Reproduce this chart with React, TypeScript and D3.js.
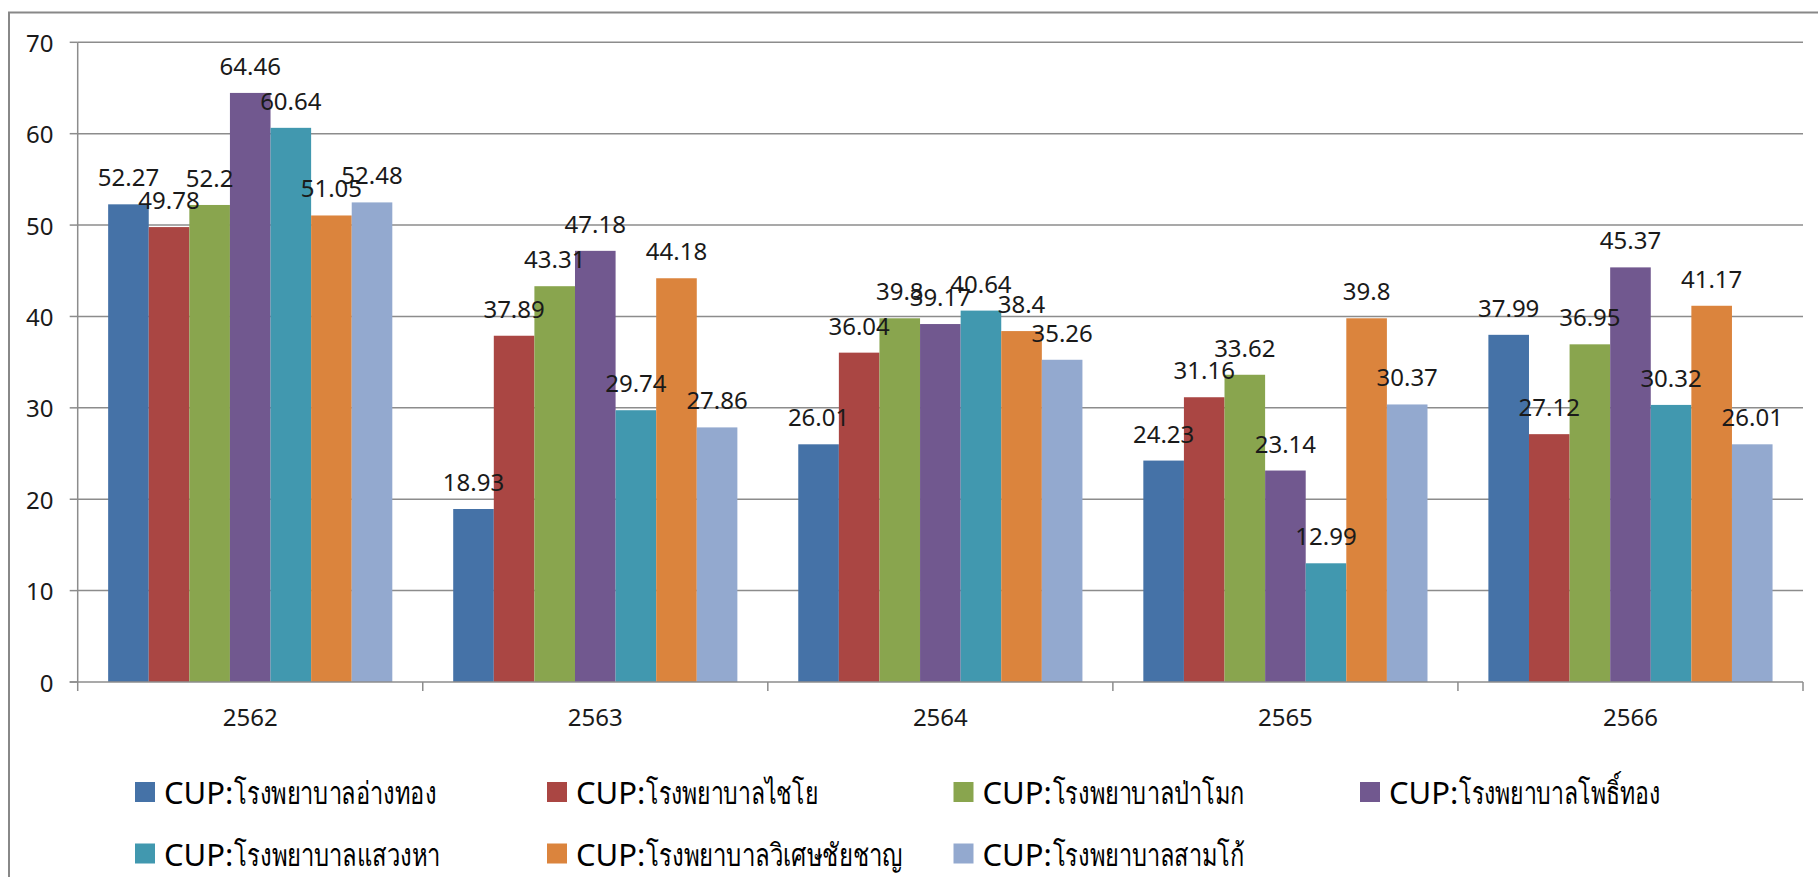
import React from "react";
import * as d3 from "d3";

const categories = ["2562", "2563", "2564", "2565", "2566"];
const seriesNames = [
  "CUP:โรงพยาบาลอ่างทอง",
  "CUP:โรงพยาบาลไชโย",
  "CUP:โรงพยาบาลป่าโมก",
  "CUP:โรงพยาบาลโพธิ์ทอง",
  "CUP:โรงพยาบาลแสวงหา",
  "CUP:โรงพยาบาลวิเศษชัยชาญ",
  "CUP:โรงพยาบาลสามโก้",
];
const angthong = [52.27, 18.93, 26.01, 24.23, 37.99];
const chaiyo = [49.78, 37.89, 36.04, 31.16, 27.12];
const pamok = [52.2, 43.31, 39.8, 33.62, 36.95];
const phothong = [64.46, 47.18, 39.17, 23.14, 45.37];
const sawaengha = [60.64, 29.74, 40.64, 12.99, 30.32];
const wisetchaichan = [51.05, 44.18, 38.4, 39.8, 41.17];
const samko = [52.48, 27.86, 35.26, 30.37, 26.01];
const seriesValues = [angthong, chaiyo, pamok, phothong, sawaengha, wisetchaichan, samko];
const colors = ["#4572A7", "#AA4643", "#89A54E", "#71588F", "#4198AF", "#DB843D", "#93A9CF"];
const yTicks = [0, 10, 20, 30, 40, 50, 60, 70];

const W = 1818;
const H = 877;
const plotLeft = 77.7;
const plotRight = 1803;
const plotTop = 42.3;
const plotBottom = 682;
const FONT = "'Noto Sans', 'DejaVu Sans', sans-serif";
const GRID = "#8c8c8c";
// widths of the Thai part of each legend entry (layout only)
const legendThaiWidths = [202, 172, 192, 201, 206, 256, 192];

export default function App() {
  const x0 = d3.scaleBand<string>().domain(categories).range([plotLeft, plotRight]).paddingInner(0).paddingOuter(0);
  const bw = x0.bandwidth();
  const barW = bw / 8.5;
  const x1 = d3
    .scaleBand<number>()
    .domain(d3.range(seriesNames.length))
    .range([barW * 0.75, bw - barW * 0.75]);
  const y = d3.scaleLinear().domain([0, 70]).range([plotBottom, plotTop]);

  const legendCols = [135, 547, 953.5, 1360];
  const legendRows = [782, 843.5];

  return (
    <svg
      width={W}
      height={H}
      style={{ position: "absolute", top: 0, left: 0, background: "#fff" }}
      fontFamily={FONT}
    >
      <rect x={0} y={0} width={W} height={H} fill="#fff" />
      <rect x={9} y={12.5} width={W + 20} height={H + 20} fill="none" stroke="#888" strokeWidth={2} />
      {yTicks.map((t) => (
        <g key={t}>
          {t > 0 && (
            <line x1={plotLeft} x2={plotRight} y1={y(t)} y2={y(t)} stroke={GRID} strokeWidth={1.5} />
          )}
          <line x1={plotLeft - 8} x2={plotLeft} y1={y(t)} y2={y(t)} stroke={GRID} strokeWidth={1.5} />
          <text x={53.5} y={y(t)} textAnchor="end" dominantBaseline="central" fontSize={24} fill="#1a1a1a">
            {t}
          </text>
        </g>
      ))}
      {categories.map((c, ci) => (
        <g key={c} transform={`translate(${x0(c)},0)`}>
          {seriesValues.map((vals, si) => (
            <rect
              key={si}
              x={x1(si)}
              y={y(vals[ci])}
              width={x1.bandwidth()}
              height={plotBottom - y(vals[ci])}
              fill={colors[si]}
            />
          ))}
        </g>
      ))}
      <line x1={plotLeft} x2={plotLeft} y1={plotTop} y2={plotBottom} stroke={GRID} strokeWidth={1.5} />
      <line x1={plotLeft - 8} x2={plotRight} y1={plotBottom} y2={plotBottom} stroke={GRID} strokeWidth={1.5} />
      {categories.map((c) => (
        <line key={c} x1={x0(c)} x2={x0(c)} y1={plotBottom} y2={plotBottom + 9} stroke={GRID} strokeWidth={1.5} />
      ))}
      <line x1={plotRight} x2={plotRight} y1={plotBottom} y2={plotBottom + 9} stroke={GRID} strokeWidth={1.5} />
      {categories.map((c) => (
        <text
          key={c}
          x={(x0(c) as number) + bw / 2}
          y={716.5}
          textAnchor="middle"
          dominantBaseline="central"
          fontSize={24}
          fill="#1a1a1a"
        >
          {c}
        </text>
      ))}
      {categories.map((c, ci) => (
        <g key={c} transform={`translate(${x0(c)},0)`}>
          {seriesValues.map((vals, si) => (
            <text
              key={si}
              x={(x1(si) as number) + x1.bandwidth() / 2}
              y={y(vals[ci]) - 27.5}
              textAnchor="middle"
              dominantBaseline="central"
              fontSize={24}
              fill="#1a1a1a"
            >
              {String(vals[ci])}
            </text>
          ))}
        </g>
      ))}
      {seriesNames.map((n, i) => {
        const lx = legendCols[i % 4];
        const ly = legendRows[Math.floor(i / 4)];
        const pre = n.slice(0, 4);
        const thai = n.slice(4);
        return (
          <g key={n}>
            <rect x={lx} y={ly} width={20} height={20} fill={colors[i]} />
            <text x={lx + 29} y={ly + 10} dominantBaseline="central" fontSize={31} fill="#000">
              {pre}
            </text>
            <text
              x={lx + 99}
              y={ly + 10}
              dominantBaseline="central"
              fontSize={31}
              fill="#000"
              textLength={legendThaiWidths[i]}
              lengthAdjust="spacingAndGlyphs"
            >
              {thai}
            </text>
          </g>
        );
      })}
    </svg>
  );
}
